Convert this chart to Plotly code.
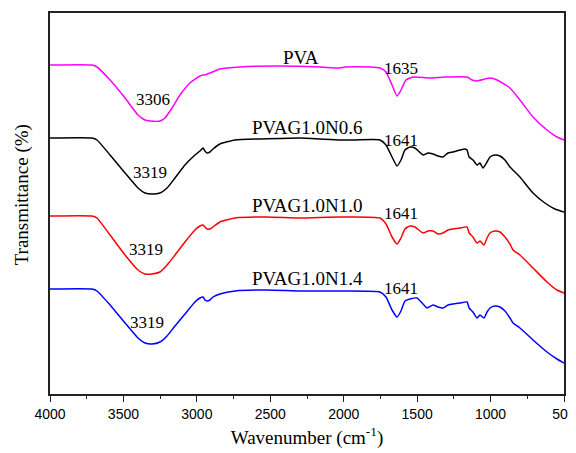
import plotly.graph_objects as go

# Wavenumber (cm-1) and transmittance (arbitrary units, offset curves)
pva_wn = [4000, 3714, 3680, 3591, 3489, 3401, 3353, 3319, 3251, 3217, 3169, 3115, 3047, 2979, 2958, 2945, 2911,
          2843, 2706, 2434, 2162, 2026, 1991, 1821, 1753, 1712, 1671, 1637, 1610, 1576, 1528, 1413, 1311, 1160,
          1126, 1092, 1038, 1004, 956, 868, 800, 711, 616, 548, 500]
pva_t = [329, 329, 327, 314, 296, 279, 274, 273, 273, 276, 286, 299, 311, 318, 319, 319, 321,
         325, 327, 328, 327, 326, 327, 327, 326, 322, 309, 298, 304, 314, 317, 316, 317, 317,
         314, 313, 315, 316, 314, 306, 294, 277, 264, 257, 254]

n06_wn = [4000, 3714, 3680, 3591, 3489, 3401, 3353, 3305, 3251, 3203, 3149, 3081, 3013, 2979, 2958, 2945, 2931,
          2911, 2890, 2843, 2740, 2570, 2298, 2026, 1923, 1753, 1712, 1671, 1637, 1610, 1583, 1549, 1515, 1460,
          1426, 1392, 1358, 1324, 1290, 1256, 1208, 1174, 1160, 1146, 1120, 1092, 1072, 1052, 1024, 1004, 970,
          936, 902, 868, 834, 800, 711, 630, 562, 500]
n06_t = [256, 256, 254, 239, 221, 206, 201, 200, 201, 206, 216, 229, 239, 243, 246, 243, 241,
         242, 245, 250, 254, 255, 256, 254, 254, 254, 249, 237, 228, 234, 244, 247, 246, 239,
         241, 240, 238, 237, 241, 242, 244, 245, 244, 237, 234, 229, 231, 226, 232, 237, 239,
         238, 234, 227, 222, 217, 201, 191, 185, 182]

n10_wn = [4000, 3714, 3680, 3591, 3489, 3401, 3353, 3305, 3251, 3203, 3149, 3081, 3013, 2979, 2958, 2945, 2931,
          2911, 2890, 2843, 2740, 2522, 2298, 2026, 1753, 1712, 1671, 1637, 1610, 1583, 1549, 1515, 1460, 1426,
          1392, 1358, 1324, 1290, 1256, 1208, 1160, 1146, 1120, 1092, 1072, 1045, 1024, 1004, 970, 936, 902,
          868, 847, 800, 711, 616, 548, 500]
n10_t = [178, 178, 176, 159, 139, 124, 120, 120, 122, 129, 139, 152, 164, 168, 169, 167, 165,
         165, 167, 172, 176, 177, 176, 177, 176, 170, 157, 150, 156, 165, 168, 167, 161, 163,
         163, 160, 161, 164, 165, 166, 167, 161, 157, 151, 153, 149, 156, 161, 163, 162, 157,
         150, 144, 139, 126, 112, 104, 101]

n14_wn = [4000, 3714, 3680, 3591, 3489, 3401, 3353, 3305, 3251, 3203, 3149, 3081, 3013, 2979, 2958, 2945, 2931,
          2911, 2890, 2843, 2740, 2522, 2298, 2026, 1753, 1712, 1671, 1637, 1610, 1583, 1549, 1501, 1460, 1433,
          1392, 1358, 1324, 1290, 1256, 1208, 1160, 1146, 1120, 1092, 1072, 1045, 1024, 1004, 970, 936, 902,
          868, 847, 800, 711, 616, 548, 500]
n14_t = [105, 105, 103, 89, 71, 56, 51, 50, 52, 58, 68, 80, 92, 96, 97, 94, 93,
         94, 97, 100, 103, 104, 103, 103, 102, 97, 84, 77, 83, 93, 95, 96, 90, 86,
         89, 87, 86, 89, 90, 91, 92, 86, 82, 76, 79, 76, 82, 86, 88, 87, 83,
         76, 71, 66, 54, 42, 35, 31]

x_ticks = [4000, 3500, 3000, 2500, 2000, 1500, 1000, 500]

# Labels: (text, wavenumber, transmittance, size)
labels = [
    ("PVA", 2291, 337, 19),
    ("1635", 1610, 326, 17),
    ("3306", 3299, 295, 17),
    ("PVAG1.0N0.6", 2250, 267, 19),
    ("1641", 1610, 254, 17),
    ("3319", 3319, 222, 17),
    ("PVAG1.0N1.0", 2250, 189, 19),
    ("1641", 1610, 181, 17),
    ("3319", 3346, 145, 17),
    ("PVAG1.0N1.4", 2250, 116, 19),
    ("1641", 1610, 106, 17),
    ("3319", 3340, 72, 17),
]

series = [
    ("PVA", pva_wn, pva_t, "#FF00FF"),
    ("PVAG1.0N0.6", n06_wn, n06_t, "#000000"),
    ("PVAG1.0N1.0", n10_wn, n10_t, "#FF0000"),
    ("PVAG1.0N1.4", n14_wn, n14_t, "#0000FF"),
]

fig = go.Figure()
for name, xs, ys, col in series:
    fig.add_trace(go.Scatter(x=xs, y=ys, mode="lines", name=name,
                             line=dict(color=col, width=1.5, shape="spline", smoothing=0.5)))

serif = "Liberation Serif, Times New Roman, serif"
for text, x, y, s in labels:
    fig.add_annotation(x=x, y=y, text=text, showarrow=False,
                       font=dict(family=serif, size=s, color="#000000"))

fig.add_annotation(xref="paper", yref="paper", x=-0.054, y=0.522, xanchor="center", yanchor="middle",
                   text="Transmittance (%)", textangle=-90, showarrow=False,
                   font=dict(family=serif, size=19, color="#000000"))

# page body has an 8px default margin, so the figure is sized to fill the rest of the window
fig.update_layout(
    width=568, height=445,
    margin=dict(l=42, r=12, t=5, b=59),
    paper_bgcolor="white", plot_bgcolor="white",
    showlegend=False,
)
fig.update_xaxes(
    range=[4000, 500], tickvals=x_ticks, ticktext=[str(v) for v in x_ticks],
    automargin=False,
    showline=True, mirror=True, linecolor="#222222", linewidth=1.5,
    ticks="outside", ticklen=6, tickwidth=1.2, tickcolor="#222222",
    minor=dict(ticks="outside", ticklen=3, dtick=250, tick0=500, tickcolor="#222222", tickwidth=1.2),
    showgrid=False, zeroline=False,
    tickfont=dict(family="Liberation Sans, Arial, sans-serif", size=14, color="#000000"),
    title=dict(text="Wavenumber (cm<sup>-1</sup>)", font=dict(family=serif, size=19, color="#000000"),
               standoff=10),
)
fig.update_yaxes(
    range=[0, 381], showticklabels=False, ticks="", automargin=False,
    showline=True, mirror=True, linecolor="#222222", linewidth=1.5,
    showgrid=False, zeroline=False,
)

fig.write_html("out.html")
